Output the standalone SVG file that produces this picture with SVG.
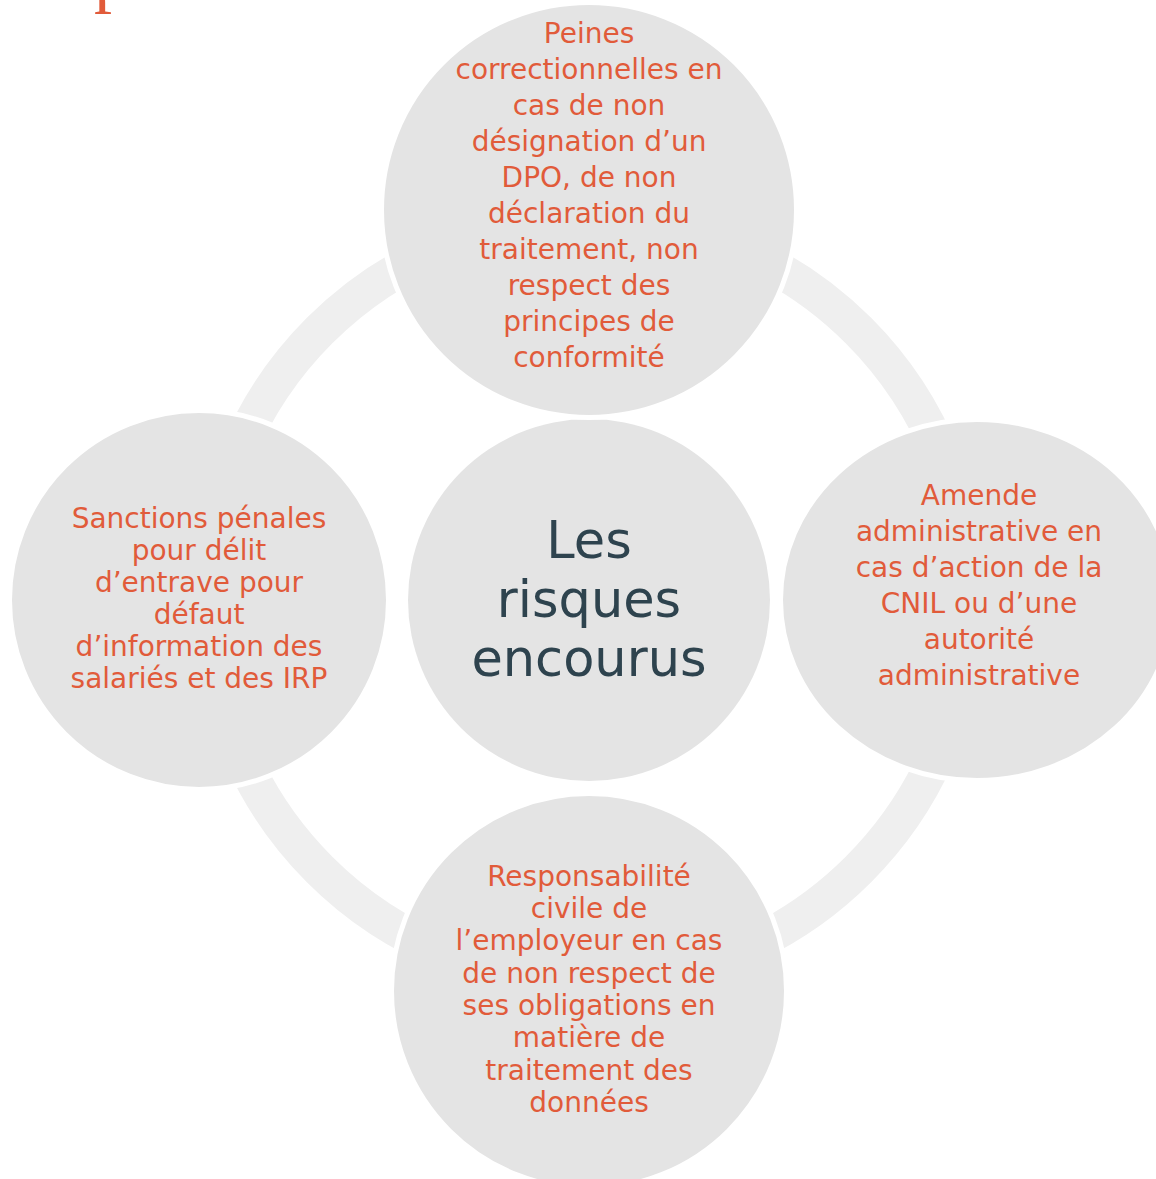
<svg xmlns="http://www.w3.org/2000/svg" width="1156" height="1179" viewBox="0 0 1156 1179">
  <style>
    .node { fill: #e4e4e4; stroke: #ffffff; stroke-width: 5; }
    .lbl { font-family: "DejaVu Sans", "Liberation Sans", sans-serif; font-size: 28px; fill: #e15b3a; text-anchor: middle; }
    .ctr { font-family: "DejaVu Sans", "Liberation Sans", sans-serif; font-size: 51px; fill: #2e434e; text-anchor: middle; }
    .ring { fill: none; stroke: #efefef; stroke-width: 36; }
  </style>
  <rect x="0" y="0" width="1156" height="1179" fill="#ffffff"/>
  <text x="94" y="-1" font-family="Liberation Serif, serif" font-size="72" fill="#e15b3a">p</text>
  <g id="connectors">
    <circle class="ring" cx="589" cy="600" r="381"/>
  </g>
  <g id="node-center">
    <circle cx="589" cy="600" r="181" fill="#e4e4e4"/>
    <text class="ctr"><tspan x="589" y="558">Les</tspan><tspan x="589" y="617">risques</tspan><tspan x="589" y="676">encourus</tspan></text>
  </g>
  <g id="node-top">
    <circle class="node" cx="589" cy="210" r="207.5"/>
    <text class="lbl"><tspan x="589" y="43">Peines</tspan><tspan x="589" y="79">correctionnelles en</tspan><tspan x="589" y="115">cas de non</tspan><tspan x="589" y="151">désignation d’un</tspan><tspan x="589" y="187">DPO, de non</tspan><tspan x="589" y="223">déclaration du</tspan><tspan x="589" y="259">traitement, non</tspan><tspan x="589" y="295">respect des</tspan><tspan x="589" y="331">principes de</tspan><tspan x="589" y="367">conformité</tspan></text>
  </g>
  <g id="node-left">
    <circle class="node" cx="199" cy="600" r="189.5"/>
    <text class="lbl"><tspan x="199" y="528">Sanctions pénales</tspan><tspan x="199" y="560">pour délit</tspan><tspan x="199" y="592">d’entrave pour</tspan><tspan x="199" y="624">défaut</tspan><tspan x="199" y="656">d’information des</tspan><tspan x="199" y="688">salariés et des IRP</tspan></text>
  </g>
  <g id="node-right">
    <ellipse class="node" cx="977" cy="600" rx="196.5" ry="180.5"/>
    <text class="lbl"><tspan x="979" y="505">Amende</tspan><tspan x="979" y="541">administrative en</tspan><tspan x="979" y="577">cas d’action de la</tspan><tspan x="979" y="613">CNIL ou d’une</tspan><tspan x="979" y="649">autorité</tspan><tspan x="979" y="685">administrative</tspan></text>
  </g>
  <g id="node-bottom">
    <circle class="node" cx="589" cy="991" r="197.5"/>
    <text class="lbl"><tspan x="589" y="886">Responsabilité</tspan><tspan x="589" y="918">civile de</tspan><tspan x="589" y="950">l’employeur en cas</tspan><tspan x="589" y="983">de non respect de</tspan><tspan x="589" y="1015">ses obligations en</tspan><tspan x="589" y="1047">matière de</tspan><tspan x="589" y="1080">traitement des</tspan><tspan x="589" y="1112">données</tspan></text>
  </g>
</svg>
